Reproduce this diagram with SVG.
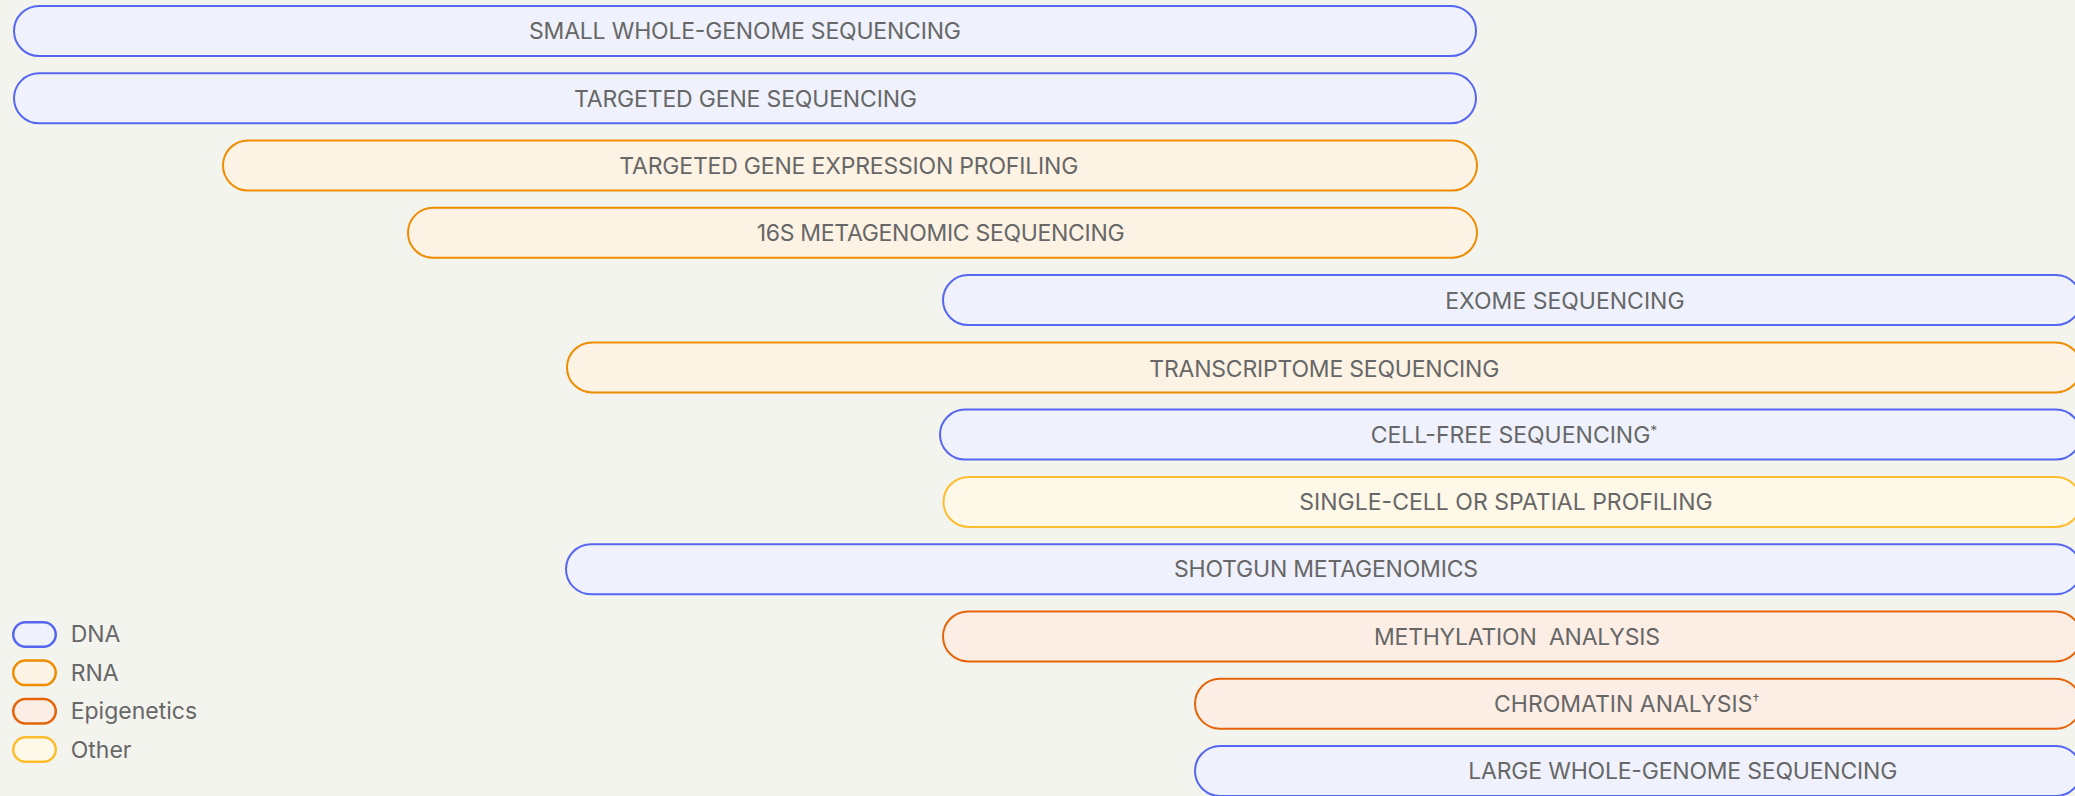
<svg xmlns="http://www.w3.org/2000/svg" width="2075" height="796" viewBox="0 0 2075 796">
<style>
text{font-family:Inter,"Noto Sans","Liberation Sans",sans-serif;font-size:23px;fill:#676767;}
.lbl{white-space:pre;}
.dna{fill:#EFF2FD;stroke:#5567F0;stroke-width:2;}
.rna{fill:#FDF3E4;stroke:#EF8C00;stroke-width:2;}
.epi{fill:#FCEEE4;stroke:#E5640A;stroke-width:2;}
.oth{fill:#FEF8E8;stroke:#FDBD2E;stroke-width:2;}
.leg{stroke-width:2.5;}
.sup{font-size:14px;}
</style>
<rect x="0" y="0" width="2075" height="796" fill="#F4F4EF"/>
<g id="connectors"/>
<g id="n1"><rect class="dna" x="14" y="6" width="1462" height="50" rx="25"/><text class="lbl" x="529" y="39" textLength="432" lengthAdjust="spacing">SMALL WHOLE-GENOME SEQUENCING</text></g>
<g id="n2"><rect class="dna" x="14" y="73.3" width="1462" height="50" rx="25"/><text class="lbl" x="574" y="106.5" textLength="343" lengthAdjust="spacing">TARGETED GENE SEQUENCING</text></g>
<g id="n3"><rect class="rna" x="223" y="140.5" width="1254" height="50" rx="25"/><text class="lbl" x="619.3" y="174" textLength="459" lengthAdjust="spacing">TARGETED GENE EXPRESSION PROFILING</text></g>
<g id="n4"><rect class="rna" x="408" y="207.8" width="1069" height="50" rx="25"/><text class="lbl" x="756.7" y="241" textLength="368" lengthAdjust="spacing">16S METAGENOMIC SEQUENCING</text></g>
<g id="n5"><rect class="dna" x="943" y="275.1" width="1138" height="50" rx="25"/><text class="lbl" x="1445.3" y="309">EXOME SEQUENCING</text></g>
<g id="n6"><rect class="rna" x="567" y="342.4" width="1514" height="50" rx="25"/><text class="lbl" x="1149.3" y="376.5" textLength="350" lengthAdjust="spacing">TRANSCRIPTOME SEQUENCING</text></g>
<g id="n7"><rect class="dna" x="940" y="409.6" width="1141" height="50" rx="25"/><text class="lbl" x="1370.7" y="442.8">CELL-FREE SEQUENCING<tspan class="sup" dy="-7">*</tspan></text></g>
<g id="n8"><rect class="oth" x="943.5" y="476.9" width="1137.5" height="50" rx="25"/><text class="lbl" x="1712.7" y="509.5" text-anchor="end">SINGLE-CELL OR SPATIAL PROFILING</text></g>
<g id="n9"><rect class="dna" x="566" y="544.2" width="1515" height="50" rx="25"/><text class="lbl" x="1174" y="577.3" textLength="304" lengthAdjust="spacing">SHOTGUN METAGENOMICS</text></g>
<g id="n10"><rect class="epi" x="943" y="611.4" width="1138" height="50" rx="25"/><text class="lbl" x="1374" y="645" textLength="286" lengthAdjust="spacing">METHYLATION  ANALYSIS</text></g>
<g id="n11"><rect class="epi" x="1195" y="678.7" width="886" height="50" rx="25"/><text class="lbl" x="1494" y="711.7">CHROMATIN ANALYSIS<tspan class="sup" dy="-7">†</tspan></text></g>
<g id="n12"><rect class="dna" x="1195" y="746" width="886" height="50" rx="25"/><text class="lbl" x="1468.3" y="779" textLength="429" lengthAdjust="spacing">LARGE WHOLE-GENOME SEQUENCING</text></g>
<g id="legend">
<g id="leg-dna"><rect class="dna leg" x="13.25" y="622.2" width="42.5" height="24.5" rx="12.25"/><text x="70.7" y="642">DNA</text></g>
<g id="leg-rna"><rect class="rna leg" x="13.25" y="660.6" width="42.5" height="24.5" rx="12.25"/><text x="70.7" y="680.7">RNA</text></g>
<g id="leg-epi"><rect class="epi leg" x="13.25" y="699" width="42.5" height="24.5" rx="12.25"/><text x="70.7" y="719">Epigenetics</text></g>
<g id="leg-oth"><rect class="oth leg" x="13.25" y="737.3" width="42.5" height="24.5" rx="12.25"/><text x="70.7" y="757.5">Other</text></g>
</g>
</svg>
